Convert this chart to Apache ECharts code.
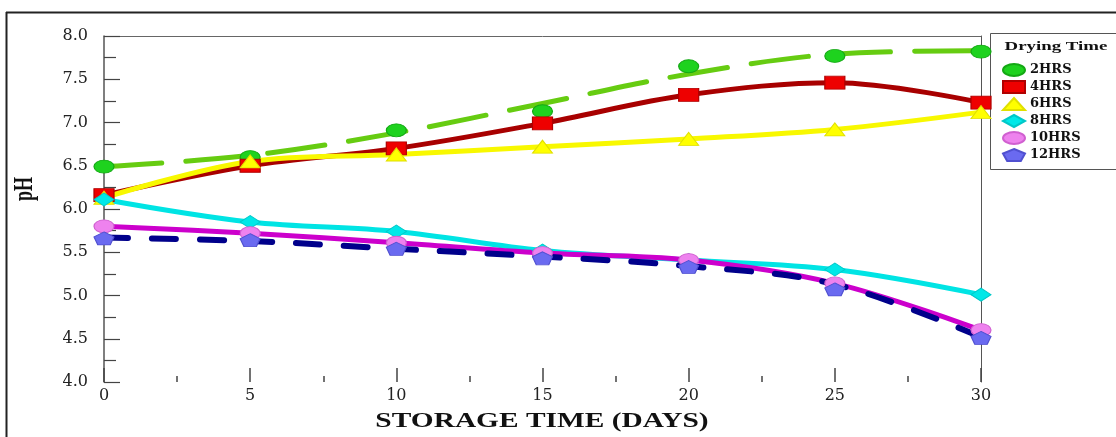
<!DOCTYPE html>
<html>
<head>
<meta charset="utf-8">
<script src="https://cdn.jsdelivr.net/npm/echarts@6/dist/echarts.min.js"></script>
<style>html,body{margin:0;padding:0;background:#fff;}#c{width:1116px;height:437px;}</style>
</head>
<body>
<div id="c"></div>
<script>
// ---- data ----
const days = [0, 5, 10, 15, 20, 25, 30];
const seriesNames = ['2HRS', '4HRS', '6HRS', '8HRS', '10HRS', '12HRS'];
// measured points (markers)
const ph2hrs  = [6.49, 6.60, 6.91, 7.13, 7.65, 7.77, 7.82];
const ph4hrs  = [6.16, 6.50, 6.70, 6.99, 7.32, 7.46, 7.23];
const ph6hrs  = [6.13, 6.55, 6.63, 6.72, 6.81, 6.92, 7.12];
const ph8hrs  = [6.11, 5.85, 5.74, 5.52, 5.41, 5.30, 5.01];
const ph10hrs = [5.80, 5.72, 5.61, 5.49, 5.41, 5.14, 4.60];
const ph12hrs = [5.66, 5.64, 5.54, 5.43, 5.33, 5.07, 4.51];
// drawn curves (the dashed ones are fitted curves)
const curve2hrs  = [6.49, 6.62, 6.88, 7.22, 7.56, 7.79, 7.83];
const curve4hrs  = ph4hrs;
const curve6hrs  = ph6hrs;
const curve8hrs  = ph8hrs;
const curve10hrs = ph10hrs;
const curve12hrs = [5.67, 5.63, 5.54, 5.45, 5.34, 5.13, 4.52];
const xTicks = [0, 5, 10, 15, 20, 25, 30];
const yTicks = [4.0, 4.5, 5.0, 5.5, 6.0, 6.5, 7.0, 7.5, 8.0];

const markers = [ph2hrs, ph4hrs, ph6hrs, ph8hrs, ph10hrs, ph12hrs];
const curves = [curve2hrs, curve4hrs, curve6hrs, curve8hrs, curve10hrs, curve12hrs];

const ellipse = 'path://M-10,0 A10,10 0 1,0 10,0 A10,10 0 1,0 -10,0 Z';
const pent = 'path://M0,-10 L9.5,-3.1 L5.9,8.1 L-5.9,8.1 L-9.5,-3.1 Z';
const styles = [
  {line:'#66cc11', dash:[58,24], mark:'#1ed21e', border:'#14a814', symbol:ellipse},
  {line:'#a80000', dash:null, mark:'#ee0000', border:'#b00000', symbol:'rect'},
  {line:'#f8f800', dash:null, mark:'#ffff00', border:'#e0e000', symbol:'triangle'},
  {line:'#00e4e4', dash:null, mark:'#00e8e8', border:'#00c8c8', symbol:'diamond'},
  {line:'#cc00cc', dash:null, mark:'#ee82ee', border:'#d060d0', symbol:ellipse},
  {line:'#00008b', dash:[24,24], mark:'#6a6af0', border:'#5050d0', symbol:pent}
];

const series = [];
curves.forEach((c, i) => {
  const s = styles[i];
  series.push({
    type: 'line', name: seriesNames[i] + ' curve', smooth: 0.35,
    showSymbol: false, symbol: 'none', z: 2 + i * 0.1,
    data: days.map((d, k) => [d, c[k]]),
    lineStyle: {color: s.line, width: i === 5 ? 6 : 5, type: s.dash || 'solid', cap: 'round', join: 'round'},
    silent: true
  });
});
markers.forEach((m, i) => {
  const s = styles[i];
  series.push({
    type: 'scatter', name: seriesNames[i], symbol: s.symbol, symbolKeepAspect: false,
    symbolSize: [20, 13], z: 5,
    data: days.map((d, k) => [d, m[k]]),
    itemStyle: {color: s.mark, borderColor: s.border, borderWidth: 1, opacity: 1}
  });
});

const chart = echarts.init(document.getElementById('c'));
const axisFont = {fontFamily: 'DejaVu Serif', fontSize: 16, color: '#222'};
chart.setOption({
  animation: false,
  backgroundColor: '#fff',
  grid: {left: 104, right: 135, top: 36, bottom: 55},
  xAxis: [{
    type: 'value', min: xTicks[0], max: xTicks[xTicks.length - 1], interval: 5,
    axisLine: {show: false},
    axisTick: {show: true, inside: true, length: 14, lineStyle: {color: '#444', width: 1.5}},
    minorTick: {show: true, splitNumber: 2, length: 6, lineStyle: {color: '#444', width: 1.5}},
    axisLabel: Object.assign({margin: 6}, axisFont),
    splitLine: {show: false}
  }, {
    type: 'value', position: 'top', min: 0, max: 30,
    axisLine: {show: true, onZero: false, lineStyle: {color: '#666', width: 1}},
    axisTick: {show: false}, axisLabel: {show: false}, splitLine: {show: false}
  }],
  yAxis: [{
    type: 'value', min: yTicks[0], max: yTicks[yTicks.length - 1], interval: 0.5,
    axisLine: {show: true, onZero: false, lineStyle: {color: '#555', width: 1.5}},
    axisTick: {show: true, inside: true, length: 16, lineStyle: {color: '#444', width: 1.2}},
    minorTick: {show: true, splitNumber: 2, length: 12, lineStyle: {color: '#444', width: 1.2}},
    axisLabel: Object.assign({margin: 16, formatter: v => v.toFixed(1)}, axisFont),
    splitLine: {show: false}
  }, {
    type: 'value', position: 'right', min: 4, max: 8,
    axisLine: {show: true, onZero: false, lineStyle: {color: '#555', width: 1}},
    axisTick: {show: false}, axisLabel: {show: false}, splitLine: {show: false}
  }],
  legend: {
    orient: 'vertical', left: 997, top: 58,
    itemWidth: 22, itemHeight: 12, itemGap: 3, symbolKeepAspect: false,
    textStyle: {fontFamily: 'DejaVu Serif', fontWeight: 'bold', fontSize: 13, color: '#111'},
    data: seriesNames.map((n, i) => ({name: n, icon: styles[i].symbol})),
    z: 10
  },
  graphic: [
    {type: 'line', shape: {x1: 6.5, y1: 12, x2: 6.5, y2: 437}, style: {stroke: '#222', lineWidth: 2}, z: 1},
    {type: 'line', shape: {x1: 6, y1: 12.5, x2: 1116, y2: 12.5}, style: {stroke: '#222', lineWidth: 2}, z: 1},
    {type: 'rect', shape: {x: 990.5, y: 33.5, width: 130, height: 136}, style: {fill: '#fff', stroke: '#555', lineWidth: 1}, z: 1},
    {type: 'text', x: 1056, y: 47, scaleX: 1.45, z: 11,
      style: {text: 'Drying Time', fontFamily: 'Liberation Serif', fontWeight: 'bold', fontSize: 13, fill: '#111', textAlign: 'center', textVerticalAlign: 'middle'}},
    {type: 'text', x: 25, y: 189, rotation: Math.PI / 2, scaleY: 1.5, z: 11,
      style: {text: 'pH', fontFamily: 'Liberation Serif', fontWeight: 'bold', fontSize: 18, fill: '#111', textAlign: 'center', textVerticalAlign: 'middle'}},
    {type: 'text', x: 542, y: 422, scaleX: 1.47, z: 11,
      style: {text: 'STORAGE TIME (DAYS)', fontFamily: 'Liberation Serif', fontWeight: 'bold', fontSize: 20, fill: '#111', textAlign: 'center', textVerticalAlign: 'middle'}}
  ],
  series: series
});
</script>
</body>
</html>
